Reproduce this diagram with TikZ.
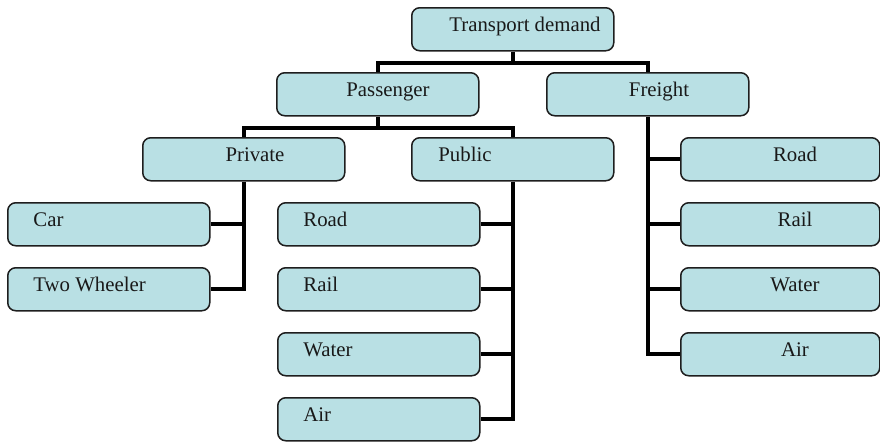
\documentclass[tikz,border=0pt]{standalone}
\usepackage{fontspec}
\setmainfont{Liberation Serif}
\usetikzlibrary{calc,backgrounds}
\definecolor{boxfill}{RGB}{185,224,228}
\definecolor{boxline}{RGB}{30,30,30}
\definecolor{txt}{RGB}{25,25,25}
\tikzset{
  box/.style={draw=boxline, fill=boxfill, line width=0.75pt, rounded corners=4pt,
    minimum width=101pt, minimum height=21.5pt, inner sep=0pt, anchor=north west},
  fbox/.style={box, minimum width=99.5pt},
  lblc/.style={anchor=base, inner sep=0pt, text=txt, font=\fontsize{10.4}{12}\selectfont},
  lbll/.style={anchor=base west, inner sep=0pt, text=txt, font=\fontsize{10.4}{12}\selectfont},
  conn/.style={draw=black, line width=2pt, line join=miter}
}
\begin{document}
\begin{tikzpicture}[x=0.5pt,y=-0.5pt]
\useasboundingbox (0,0) rectangle (880,441);
% boxes (placed by north west corner)
\node[box] (td) at (411,7) {};
\node[box] (pass) at (276,72) {};
\node[box] (frt) at (546,72) {};
\node[box] (priv) at (142,137) {};
\node[box] (pub) at (411,137) {};
\node[box] (car) at (7,202) {};
\node[box] (tw) at (7,267) {};
\node[box] (proad) at (277,202) {};
\node[box] (prail) at (277,267) {};
\node[box] (pwater) at (277,332) {};
\node[box] (pair) at (277,397) {};
\node[fbox] (froad) at (680,137) {};
\node[fbox] (frail) at (680,202) {};
\node[fbox] (fwater) at (680,267) {};
\node[fbox] (fair) at (680,332) {};
% connectors, behind the boxes
\begin{scope}[on background layer]
\coordinate (j1) at ($(td.south)+(0,11)$);
\coordinate (j2) at ($(pass.south)+(0,11)$);
\draw[conn] (td.south) -- (j1);
\draw[conn] (pass.north) |- (j1) -| (frt.north);
\draw[conn] (pass.south) -- (j2);
\draw[conn] (priv.north) |- (j2) -| (pub.north);
\draw[conn] (priv.south) |- (tw.east);
\draw[conn] (car.east) -- (car.east -| priv.south);
\draw[conn] (pub.south) |- (pair.east);
\draw[conn] (proad.east) -- (proad.east -| pub.south);
\draw[conn] (prail.east) -- (prail.east -| pub.south);
\draw[conn] (pwater.east) -- (pwater.east -| pub.south);
\draw[conn] (frt.south) |- (fair.west);
\draw[conn] (froad.west) -- (froad.west -| frt.south);
\draw[conn] (frail.west) -- (frail.west -| frt.south);
\draw[conn] (fwater.west) -- (fwater.west -| frt.south);
\end{scope}
% labels
\node[lblc] (td-t) at ($(td.north west)+(114,24.5)$) {Transport demand};
\node[lblc] (pass-t) at ($(pass.north west)+(112,24.5)$) {Passenger};
\node[lblc] (frt-t) at ($(frt.north west)+(113,24.5)$) {Freight};
\node[lblc] (priv-t) at ($(priv.north west)+(113,24.5)$) {Private};
\node[lbll] (pub-t) at ($(pub.north west)+(27,24.5)$) {Public};
\node[lbll] (car-t) at ($(car.north west)+(26,24.5)$) {Car};
\node[lbll] (tw-t) at ($(tw.north west)+(26,24.5)$) {Two Wheeler};
\node[lbll] (proad-t) at ($(proad.north west)+(26,24.5)$) {Road};
\node[lbll] (prail-t) at ($(prail.north west)+(26,24.5)$) {Rail};
\node[lbll] (pwater-t) at ($(pwater.north west)+(26,24.5)$) {Water};
\node[lbll] (pair-t) at ($(pair.north west)+(26,24.5)$) {Air};
\node[lblc] (froad-t) at ($(froad.north west)+(115,24.5)$) {Road};
\node[lblc] (frail-t) at ($(frail.north west)+(115,24.5)$) {Rail};
\node[lblc] (fwater-t) at ($(fwater.north west)+(115,24.5)$) {Water};
\node[lblc] (fair-t) at ($(fair.north west)+(115,24.5)$) {Air};
\end{tikzpicture}
\end{document}
